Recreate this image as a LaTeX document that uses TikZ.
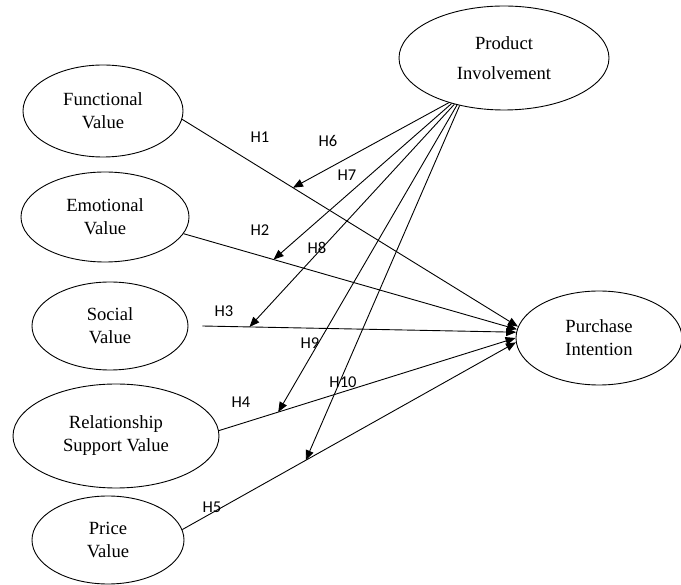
\documentclass[tikz,border=0pt]{standalone}
\usepackage{fontspec}
\setmainfont{Liberation Serif}
\newfontfamily\hypfont{Carlito}
\usepackage{tikz}
\usetikzlibrary{shapes.geometric, arrows.meta}

\begin{document}
\begin{tikzpicture}[
  x=1pt, y=-1pt,
  var/.style={ellipse, draw, line width=0.9pt, inner sep=0pt, align=center,
              font=\fontsize{18.6}{23}\selectfont},
  arrow/.style={-{Triangle[length=10pt, width=8pt]}, line width=0.9pt},
  hyp/.style={font=\hypfont\fontsize{16.5}{18}\selectfont, inner sep=0pt}
]
\useasboundingbox (0,0) rectangle (681,585);

\node[var, minimum width=160pt, minimum height=92pt] (func) at (103,111)
  {Functional\\Value};
\node[var, minimum width=168pt, minimum height=90pt] (emo) at (105,217)
  {Emotional\\Value};
\node[var, minimum width=156pt, minimum height=88pt] (soc) at (110,326)
  {Social\\Value};
\node[var, minimum width=206pt, minimum height=104pt] (rel) at (116,436)
  {Relationship\\Support Value};
\node[var, minimum width=152pt, minimum height=88pt] (price) at (108,540)
  {Price\\Value};
\node[var, minimum width=210pt, minimum height=104pt] (inv) at (504,58)
  {Product\\[7pt]Involvement};
\node[var, minimum width=166pt, minimum height=94pt] (purch) at (599,338)
  {Purchase\\Intention};
\coordinate (socout) at ([xshift=14pt]soc.east);

\draw[arrow] (func.-6) -- coordinate[pos=0.33] (m1) (purch.172);
\draw[arrow] (emo.-12) -- coordinate[pos=0.27] (m2) (purch.174.5);
\draw[arrow] (socout) -- coordinate[pos=0.15] (m3) (purch.176.5);
\draw[arrow] (rel.3) -- coordinate[pos=0.2] (m4) (purch.180);
\draw[arrow] (price.8) -- coordinate[pos=0.37] (m5) (purch.183);

\draw[arrow] (inv.219) -- (m1);
\draw[arrow] (inv.221) -- (m2);
\draw[arrow] (inv.223) -- (m3);
\draw[arrow] (inv.225) -- (m4);
\draw[arrow] (inv.227) -- (m5);

\node[hyp] (h1) at (260,137) {H1};
\node[hyp] (h2) at (260,230) {H2};
\node[hyp] (h3) at (224,311) {H3};
\node[hyp] (h4) at (241,402) {H4};
\node[hyp] (h5) at (212,507) {H5};
\node[hyp] (h6) at (328,141) {H6};
\node[hyp] (h7) at (347,175) {H7};
\node[hyp] (h8) at (317,248) {H8};
\node[hyp] (h9) at (310,343) {H9};
\node[hyp] (h10) at (343,382) {H10};

\end{tikzpicture}
\end{document}
